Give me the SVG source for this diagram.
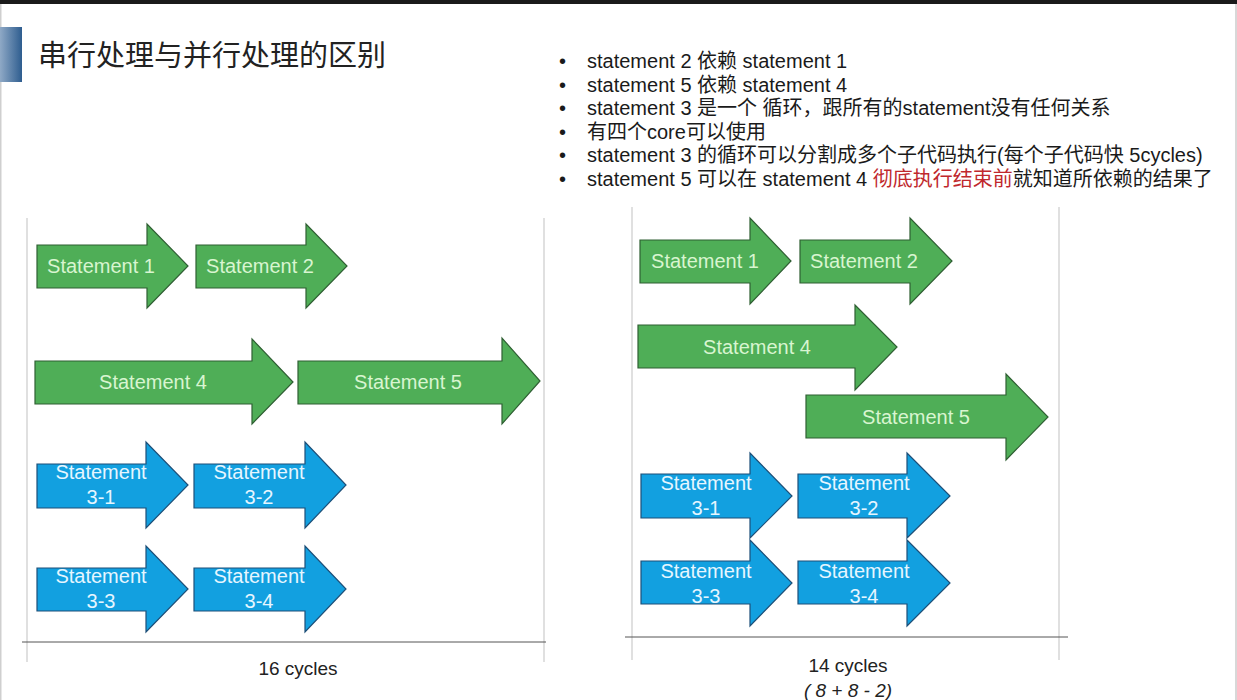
<svg xmlns="http://www.w3.org/2000/svg" width="1237" height="700" viewBox="0 0 1237 700">
  <defs>
    <linearGradient id="titleBar" x1="0" y1="0" x2="1" y2="0">
      <stop offset="0" stop-color="#8fa9c6"/>
      <stop offset="1" stop-color="#2e5d8f"/>
    </linearGradient>
  </defs>
  <style>
    .title { font-family: "Noto Sans CJK SC", "Liberation Sans", sans-serif; font-size: 29px; fill: #222; }
    .bullet { font-family: "Liberation Sans", "Noto Sans CJK SC", sans-serif; font-size: 20px; fill: #1a1a1a; }
    .red { fill: #c0282d; }
    .green { fill: #4fae57; stroke: #2f5f33; stroke-width: 1.2; }
    .blue { fill: #12a0e0; stroke: #1d4f78; stroke-width: 1.2; }
    .glabel { font-family: "Liberation Sans", sans-serif; font-size: 20px; fill: #d8f5d0; text-anchor: middle; }
    .blabel { font-family: "Liberation Sans", sans-serif; font-size: 20px; fill: #e6f6ff; text-anchor: middle; }
    .axis { stroke: #555; stroke-width: 1; }
    .frame { stroke: #cccccc; stroke-width: 1.2; }
    .caption { font-family: "Liberation Sans", sans-serif; font-size: 19px; fill: #222; text-anchor: middle; }
  </style>

  <rect width="1237" height="700" fill="#ffffff"/>
  <rect x="0" y="0" width="1237" height="4" fill="#1a1a1a"/>
  <rect x="1235" y="4" width="2" height="696" fill="#d8d8d8"/>
  <rect x="0" y="4" width="1.5" height="696" fill="#cfcfcf"/>

  <!-- heading -->
  <g id="heading">
    <rect x="0" y="27" width="22" height="55" fill="url(#titleBar)"/>
    <text class="title" x="38" y="66">串行处理与并行处理的区别</text>
  </g>

  <!-- bullet list -->
  <g id="notes" class="bullet">
    <text x="559" y="68">•</text><text x="587" y="68">statement 2 依赖 statement 1</text>
    <text x="559" y="92">•</text><text x="587" y="92">statement 5 依赖 statement 4</text>
    <text x="559" y="115">•</text><text x="587" y="115">statement 3 是一个 循环，跟所有的statement没有任何关系</text>
    <text x="559" y="139">•</text><text x="587" y="139">有四个core可以使用</text>
    <text x="559" y="162">•</text><text x="587" y="162">statement 3 的循环可以分割成多个子代码执行(每个子代码快 5cycles)</text>
    <text x="559" y="186">•</text><text x="587" y="186">statement 5 可以在 statement 4 <tspan class="red">彻底执行结束前</tspan>就知道所依赖的结果了</text>
  </g>

  <!-- frames and time axes -->
  <g id="connectors">
    <line class="frame" x1="27" y1="218" x2="27" y2="662"/>
    <line class="frame" x1="544" y1="218" x2="544" y2="662"/>
    <line class="axis" x1="22" y1="642" x2="546" y2="642"/>
    <line class="frame" x1="632" y1="207" x2="632" y2="660"/>
    <line class="frame" x1="1059" y1="207" x2="1059" y2="660"/>
    <line class="axis" x1="625" y1="637" x2="1068" y2="637"/>
  </g>

  <!-- serial schedule -->
  <g id="serial-s1">
    <path class="green" d="M37,245 H147 V224 L188,266 L147,308 V288 H37 Z"/>
    <text class="glabel" x="101" y="273">Statement 1</text>
  </g>
  <g id="serial-s2">
    <path class="green" d="M196,245 H306 V224 L347,266 L306,308 V288 H196 Z"/>
    <text class="glabel" x="260" y="273">Statement 2</text>
  </g>
  <g id="serial-s4">
    <path class="green" d="M35,361 H252 V339 L293,382 L252,424 V404 H35 Z"/>
    <text class="glabel" x="153" y="389">Statement 4</text>
  </g>
  <g id="serial-s5">
    <path class="green" d="M298,361 H502 V338 L540,381 L502,424 V404 H298 Z"/>
    <text class="glabel" x="408" y="389">Statement 5</text>
  </g>
  <g id="serial-s3-1">
    <path class="blue" d="M37,464 H146 V442 L188,485 L146,528 V508 H37 Z"/>
    <text class="blabel" x="101" y="479">Statement</text>
    <text class="blabel" x="101" y="504">3-1</text>
  </g>
  <g id="serial-s3-2">
    <path class="blue" d="M194,464 H305 V442 L346,485 L305,528 V508 H194 Z"/>
    <text class="blabel" x="259" y="479">Statement</text>
    <text class="blabel" x="259" y="504">3-2</text>
  </g>
  <g id="serial-s3-3">
    <path class="blue" d="M37,568 H146 V546 L188,589 L146,632 V611 H37 Z"/>
    <text class="blabel" x="101" y="583">Statement</text>
    <text class="blabel" x="101" y="608">3-3</text>
  </g>
  <g id="serial-s3-4">
    <path class="blue" d="M194,568 H305 V546 L346,589 L305,632 V611 H194 Z"/>
    <text class="blabel" x="259" y="583">Statement</text>
    <text class="blabel" x="259" y="608">3-4</text>
  </g>
  <text class="caption" x="298" y="675">16 cycles</text>

  <!-- parallel schedule -->
  <g id="parallel-s1">
    <path class="green" d="M640,240 H750 V218 L791,261 L750,304 V283 H640 Z"/>
    <text class="glabel" x="705" y="268">Statement 1</text>
  </g>
  <g id="parallel-s2">
    <path class="green" d="M800,240 H910 V218 L952,261 L910,304 V283 H800 Z"/>
    <text class="glabel" x="864" y="268">Statement 2</text>
  </g>
  <g id="parallel-s4">
    <path class="green" d="M638,325 H855 V305 L897,347 L855,390 V368 H638 Z"/>
    <text class="glabel" x="757" y="354">Statement 4</text>
  </g>
  <g id="parallel-s5">
    <path class="green" d="M806,395 H1006 V374 L1048,417 L1006,460 V438 H806 Z"/>
    <text class="glabel" x="916" y="424">Statement 5</text>
  </g>
  <g id="parallel-s3-1">
    <path class="blue" d="M641,474 H750 V453 L792,496 L750,538 V518 H641 Z"/>
    <text class="blabel" x="706" y="490">Statement</text>
    <text class="blabel" x="706" y="515">3-1</text>
  </g>
  <g id="parallel-s3-2">
    <path class="blue" d="M798,474 H907 V453 L950,496 L907,538 V518 H798 Z"/>
    <text class="blabel" x="864" y="490">Statement</text>
    <text class="blabel" x="864" y="515">3-2</text>
  </g>
  <g id="parallel-s3-3">
    <path class="blue" d="M641,561 H750 V540 L792,583 L750,626 V604 H641 Z"/>
    <text class="blabel" x="706" y="578">Statement</text>
    <text class="blabel" x="706" y="603">3-3</text>
  </g>
  <g id="parallel-s3-4">
    <path class="blue" d="M798,561 H907 V540 L950,583 L907,626 V604 H798 Z"/>
    <text class="blabel" x="864" y="578">Statement</text>
    <text class="blabel" x="864" y="603">3-4</text>
  </g>
  <text class="caption" x="848" y="672">14 cycles</text>
  <text class="caption" x="848" y="697" font-style="italic">( 8 + 8 - 2)</text>
</svg>
